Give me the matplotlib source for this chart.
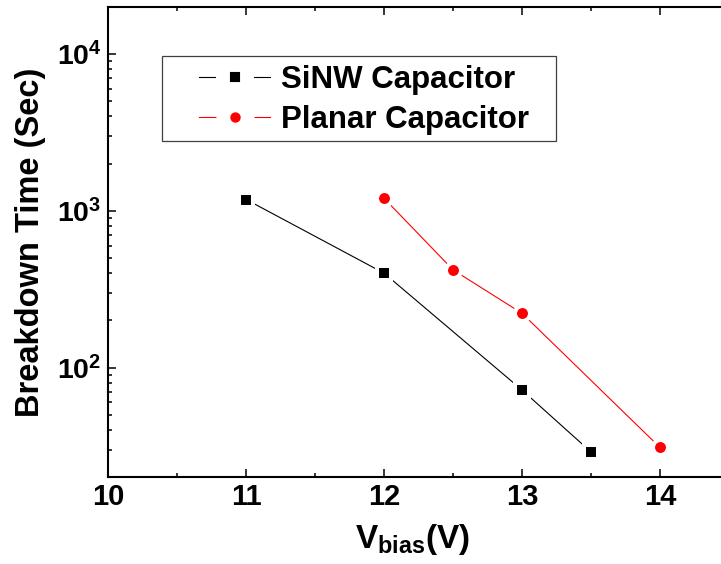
import math

import matplotlib
matplotlib.use("Agg")
from matplotlib import pyplot as plt
from matplotlib.lines import Line2D
from matplotlib.patches import Rectangle
from matplotlib.ticker import FixedLocator, LogLocator, FuncFormatter, NullFormatter

# data
sinw_v = [11, 12, 13, 13.5]
sinw_t = [1180, 400, 72, 29]
planar_v = [12, 12.5, 13, 14]
planar_t = [1200, 420, 222, 31]

x_ticks = [10, 11, 12, 13, 14]
series_labels = ["SiNW Capacitor", "Planar Capacitor"]

plt.rcParams['font.family'] = ['Liberation Sans', 'DejaVu Sans']
plt.rcParams['font.weight'] = 'bold'
plt.rcParams['mathtext.fontset'] = 'custom'
plt.rcParams['mathtext.bf'] = 'Liberation Sans:bold'
plt.rcParams['mathtext.rm'] = 'Liberation Sans:bold'
plt.rcParams['mathtext.it'] = 'Liberation Sans:bold'

fig = plt.figure(figsize=(7.21, 5.64), dpi=100)
# right spine sits just outside the picture, like the reference crop
ax = fig.add_axes([0.1502, 0.1537, 0.8608, 0.8344])

# white marker edges give the Origin style gap between line and symbol
ax.plot(sinw_v, sinw_t, color='black', lw=0.8, marker='s', ms=10.1,
        mfc='black', mec='white', mew=2.9, label=series_labels[0])
ax.plot(planar_v, planar_t, color='red', lw=0.8, marker='o', ms=10.8,
        mfc='red', mec='white', mew=2.9, label=series_labels[1])

ax.set_yscale('log')
ax.set_xlim(10, 14.5)
ax.set_ylim(20, 20000)

ax.xaxis.set_major_locator(FixedLocator(x_ticks))
ax.xaxis.set_minor_locator(FixedLocator([10.5, 11.5, 12.5, 13.5, 14.5]))
ax.yaxis.set_major_locator(LogLocator(base=10, numticks=10))
ax.yaxis.set_minor_locator(LogLocator(base=10, subs=range(2, 10), numticks=20))
ax.yaxis.set_major_formatter(FuncFormatter(lambda v, p: r'$\mathbf{10^{%d}}$' % round(math.log10(v))))
ax.yaxis.set_minor_formatter(NullFormatter())

ax.tick_params(which='both', direction='in', top=True, right=True, width=1.1)
ax.tick_params(which='major', length=5.5)
ax.tick_params(which='minor', length=2.7)
ax.tick_params(axis='x', which='major', labelsize=21, pad=4)
ax.tick_params(axis='y', which='major', labelsize=20.5, pad=5)
for lab in ax.get_xticklabels():
    lab.set_fontweight('bold')

for sp in ax.spines.values():
    sp.set_linewidth(1.5)

ax.set_ylabel("Breakdown Time (Sec)", fontsize=23.5, fontweight='bold')
ax.yaxis.set_label_coords(-0.100, 0.5)
ax.set_xlabel(r'V$_{\mathbf{bias}}$(V)', fontsize=24, fontweight='bold')
ax.xaxis.set_label_coords(0.49, -0.095)

# legend proxies: bigger white edge for the wider gap in the key
handles = [
    Line2D([], [], color='black', lw=0.8, marker='s', ms=17.5, mfc='black', mec='white', mew=10),
    Line2D([], [], color='red', lw=0.8, marker='o', ms=17.5, mfc='red', mec='white', mew=10),
]
leg = ax.legend(handles, series_labels, loc='center', frameon=False,
                bbox_to_anchor=(363.7 / 721, 1 - 100 / 564), bbox_transform=fig.transFigure,
                prop={'size': 22.5, 'weight': 'bold'}, handlelength=2.3, handletextpad=0.33,
                labelspacing=0.34, borderpad=0, numpoints=1)
fig.patches.append(Rectangle((162.3 / 721, 1 - 140.7 / 564), 393.4 / 721, 84.7 / 564,
                             transform=fig.transFigure, fill=False, ec='#404040', lw=0.9))

fig.savefig('out.png', dpi=100)
